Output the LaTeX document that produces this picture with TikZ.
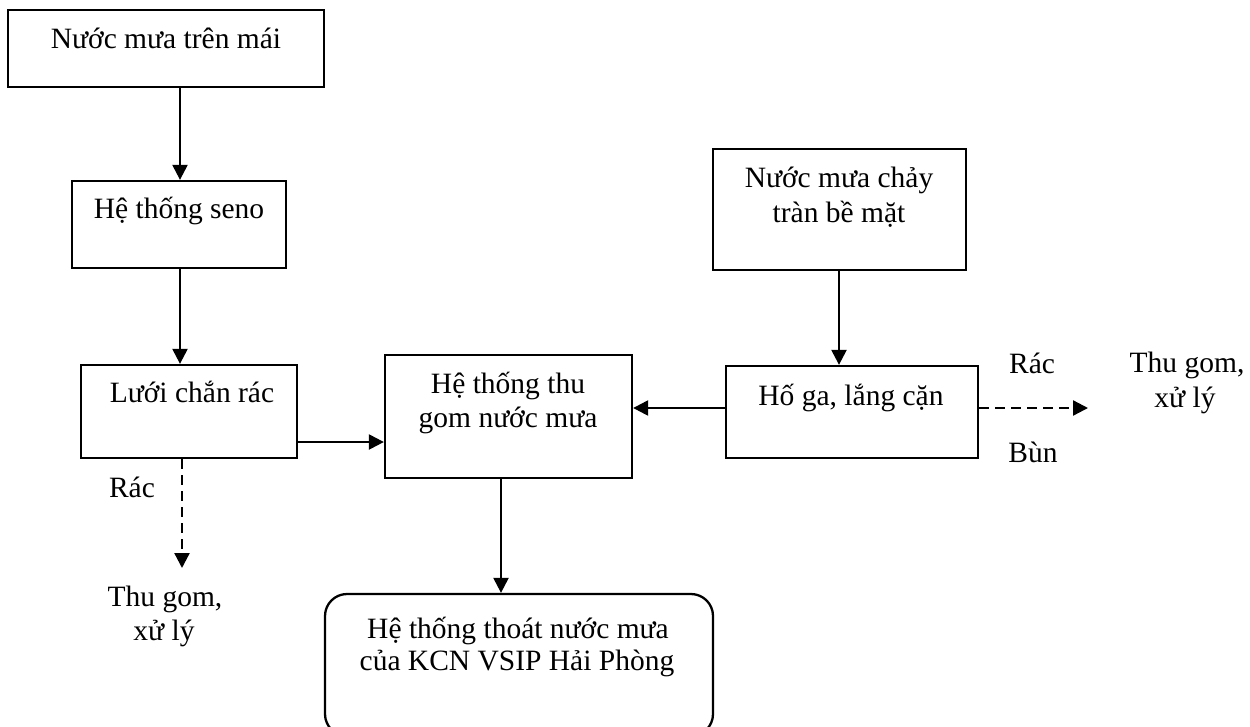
\documentclass[tikz,border=0pt]{standalone}
\usepackage{fontspec}
\setmainfont{Liberation Serif}
\usetikzlibrary{arrows.meta}
\begin{document}
\begin{tikzpicture}[x=1pt,y=-1pt,
  box/.style={draw,line width=2.3pt,rectangle,inner sep=0pt},
  rbox/.style={draw,line width=2.3pt,rectangle,rounded corners=22pt,inner sep=0pt},
  txt/.style={anchor=base,inner sep=0pt,font=\fontsize{29.5}{33}\selectfont},
  arr/.style={line width=2.3pt,-{Triangle[length=15pt,width=15pt]}},
  darr/.style={line width=2.3pt,dash pattern=on 10pt off 6pt,-{Triangle[length=15pt,width=15pt]}}]
\useasboundingbox (0,0) rectangle (1250,726);
\clip (0,0) rectangle (1250,726);

% boxes
\node[box,minimum width=316pt,minimum height=77pt] (b1) at (166,48.5) {};
\node[box,minimum width=214pt,minimum height=87pt] (b2) at (179,224.5) {};
\node[box,minimum width=216pt,minimum height=93pt] (b3) at (189,411.5) {};
\node[box,minimum width=247pt,minimum height=123pt] (b4) at (508.5,416.5) {};
\node[box,minimum width=253pt,minimum height=121pt] (b5) at (839.5,209.5) {};
\node[box,minimum width=252pt,minimum height=92pt] (b6) at (852,412) {};
\node[rbox,minimum width=388pt,minimum height=142pt] (b7) at (519,665) {};

% box labels
\node[txt] (t1) at (166,48) {Nước mưa trên mái};
\node[txt] (t2) at (179,218) {Hệ thống seno};
\node[txt] (t3) at (192,402) {Lưới chắn rác};
\node[txt] (t4a) at (508,393) {Hệ thống thu};
\node[txt] (t4b) at (508,427) {gom nước mưa};
\node[txt] (t5a) at (839,187) {Nước mưa chảy};
\node[txt] (t5b) at (839,222) {tràn bề mặt};
\node[txt] (t6) at (851,405) {Hố ga, lắng cặn};
\node[txt] (t7a) at (518,638) {Hệ thống thoát nước mưa};
\node[txt] (t7b) at (517,670) {của KCN VSIP Hải Phòng};

% side labels and outlets
\node[txt] (r1) at (132,497) {Rác};
\node[txt] (o1a) at (165,606) {Thu gom,};
\node[txt] (o1b) at (164,640) {xử lý};
\node[txt] (r2) at (1032,373) {Rác};
\node[txt] (r3) at (1033,462) {Bùn};
\node[txt] (o2a) at (1187,372) {Thu gom,};
\node[txt] (o2b) at (1185,407) {xử lý};

% reference points for connector positions
\coordinate (xa) at (180,0);
\coordinate (xb) at (182,0);
\coordinate (xc) at (501,0);
\coordinate (xd) at (839,0);
\coordinate (ya) at (0,442);
\coordinate (yb) at (0,408);
\coordinate (e1) at (182,568);
\coordinate (e2) at (1088,408);

% connectors
\draw[arr] (b1.south -| xa) -- (b2.north -| xa);
\draw[arr] (b2.south -| xa) -- (b3.north -| xa);
\draw[arr] (b3.east |- ya) -- (b4.west |- ya);
\draw[arr] (b5.south -| xd) -- (b6.north -| xd);
\draw[arr] (b6.west |- yb) -- (b4.east |- yb);
\draw[arr] (b4.south -| xc) -- (b7.north -| xc);
\draw[darr] (b3.south -| xb) -- (e1);
\draw[darr] (b6.east |- yb) -- (e2);
\end{tikzpicture}
\end{document}
